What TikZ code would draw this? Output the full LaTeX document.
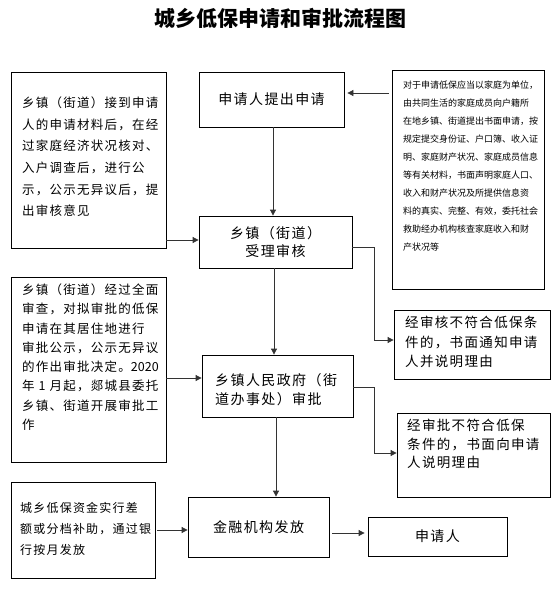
\documentclass[tikz,border=0pt]{standalone}
\usepackage{fontspec}
\usetikzlibrary{arrows.meta}
\newfontfamily\cjk{Noto Sans CJK SC}
\newfontfamily\cjkw[LetterSpace=10]{Noto Sans CJK SC}
\begin{document}
\begin{tikzpicture}[x=1pt,y=-1pt,
  box/.style={draw=black,line width=0.8pt,inner sep=0pt},
  txt/.style={inner sep=0pt,anchor=north west,align=left},
  arr/.style={draw=black!80,line width=0.8pt,-{Triangle[length=6pt,width=6pt]}},
  ln/.style={draw=black!80,line width=0.8pt}]
\useasboundingbox (0,0) rectangle (559,592);
% title
\node[inner sep=0pt,font=\fontsize{21}{24}\selectfont\cjk\bfseries] (title) at (280,18) {城乡低保申请和审批流程图};
% boxes
\node[box,minimum width=155,minimum height=176] (l1) at (88.5,160) {};
\node[txt,font=\fontsize{12.5}{21.7}\selectfont\cjkw] (l1t) at (22,96.5) {乡镇（街道）接到申请\\人的申请材料后，在经\\过家庭经济状况核对、\\入户调查后，进行公\\示，公示无异议后，提\\出审核意见};
\node[box,minimum width=152,minimum height=219] (rb) at (468,179.5) {};
\node[txt,font=\fontsize{9}{18}\selectfont\cjk] (rbt) at (403,80.5) {对于申请低保应当以家庭为单位，\\由共同生活的家庭成员向户籍所\\在地乡镇、街道提出书面申请，按\\规定提交身份证、户口簿、收入证\\明、家庭财产状况、家庭成员信息\\等有关材料，书面声明家庭人口、\\收入和财产状况及所提供信息资\\料的真实、完整、有效，委托社会\\救助经办机构核查家庭收入和财\\产状况等};
\node[box,minimum width=145,minimum height=55,font=\fontsize{14}{18}\selectfont\cjkw] (a1) at (271.5,99.5) {申请人提出申请};
\node[box,minimum width=153,minimum height=52,align=center,font=\fontsize{14}{18}\selectfont\cjkw] (a2) at (275.5,242) {乡镇（街道）\\受理审核};
\node[box,minimum width=156,minimum height=69] (b1) at (472,344.5) {};
\node[txt,font=\fontsize{13.5}{19.5}\selectfont\cjkw] (b1t) at (405,316) {经审核不符合低保条\\件的，书面通知申请\\人并说明理由};
\node[box,minimum width=155,minimum height=185] (l2) at (88.5,369.5) {};
\node[txt,font=\fontsize{12.5}{19.3}\selectfont\cjkw] (l2t) at (22,283.5) {乡镇（街道）经过全面\\审查，对拟审批的低保\\申请在其居住地进行\\审批公示，公示无异议\\的作出审批决定。{\cjk 2020}\\年 1 月起，郯城县委托\\乡镇、街道开展审批工\\作};
\node[box,minimum width=151,minimum height=62] (a3) at (277.5,386) {};
\node[txt,font=\fontsize{14}{19}\selectfont\cjkw] (a3t) at (215,373) {乡镇人民政府（街\\道办事处）审批};
\node[box,minimum width=153,minimum height=84] (b2) at (473.5,455) {};
\node[txt,font=\fontsize{13.5}{18.5}\selectfont\cjkw] (b2t) at (407,419) {经审批不符合低保\\条件的，书面向申请\\人说明理由};
\node[box,minimum width=141,minimum height=60,font=\fontsize{14}{18}\selectfont\cjkw] (a4) at (258.5,527) {金融机构发放};
\node[box,minimum width=144,minimum height=96] (l3) at (83,530) {};
\node[txt,font=\fontsize{12}{21}\selectfont\cjkw] (l3t) at (20,502) {城乡低保资金实行差\\额或分档补助，通过银\\行按月发放};
\node[box,minimum width=139,minimum height=39,font=\fontsize{14}{18}\selectfont\cjkw] (c) at (437.5,536.5) {申请人};
% connectors
\coordinate (p1) at (374,247);
\coordinate (p2) at (374,340);
\coordinate (p3) at (374,387);
\coordinate (p4) at (374,453);
\draw[arr,shorten >=3pt,shorten <=3pt] (rb.west |- 0,93) -- (a1.east |- 0,93);
\draw[arr] (a1.south -| 273,0) -- (a2.north -| 273,0);
\draw[arr] (l1.east |- 0,240) -- (a2.west |- 0,240);
\draw[arr] (a2.east |- p1) -- (p1) -- (p2) -- (b1.west |- p2);
\draw[arr] (a2.south -| 274,0) -- (a3.north -| 274,0);
\draw[arr] (l2.east |- 0,378) -- (a3.west |- 0,378);
\draw[arr] (a3.east |- p3) -- (p3) -- (p4) -- (b2.west |- p4);
\draw[arr] (a3.south -| 276,0) -- (a4.north -| 276,0);
\draw[arr,shorten <=2pt] (l3.east |- 0,530) -- (a4.west |- 0,530);
\draw[arr,shorten <=3pt,shorten >=3pt] (a4.east |- 0,533) -- (c.west |- 0,533);
\end{tikzpicture}
\end{document}
